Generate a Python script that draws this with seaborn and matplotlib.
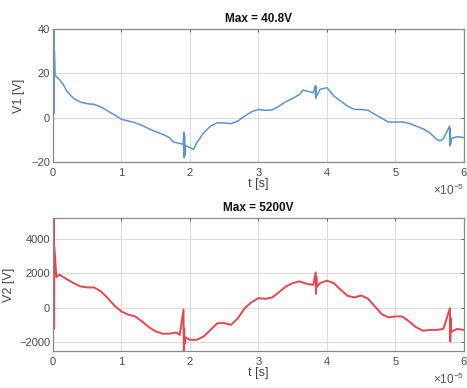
import numpy as np
import pandas as pd
import matplotlib
matplotlib.use("Agg")
import matplotlib.pyplot as plt
import seaborn as sns

# time axis in units of 1e-5 s
t1 = [0.0, 0.012, 0.016, 0.02, 0.03, 0.1, 0.15, 0.2, 0.3, 0.4, 0.5, 0.6, 0.7, 0.8, 0.9,
      1.0, 1.1, 1.2, 1.3, 1.4, 1.5, 1.6, 1.7, 1.75, 1.8, 1.9, 1.91, 1.915, 1.92, 1.925, 1.93,
      2.0, 2.05, 2.1, 2.2, 2.3, 2.4, 2.5, 2.6, 2.7, 2.8, 2.9, 3.0, 3.1, 3.2, 3.3, 3.4, 3.5,
      3.6, 3.65, 3.7, 3.8, 3.83, 3.835, 3.84, 3.845, 3.9, 4.0, 4.1, 4.2, 4.3, 4.4, 4.5, 4.6,
      4.7, 4.8, 4.9, 5.0, 5.1, 5.2, 5.3, 5.4, 5.5, 5.6, 5.65, 5.7, 5.79, 5.795, 5.8, 5.805,
      5.81, 5.9, 6.0]
v1 = [0.0, 40.8, 2.0, 30.0, 19.0, 17.0, 15.0, 12.0, 8.7, 7.0, 6.3, 6.0, 4.8, 3.0, 1.2,
      -0.8, -1.5, -2.3, -3.5, -5.0, -6.3, -7.5, -9.0, -10.8, -11.3, -12.0, -6.5, -18.0, -8.0, -17.0, -12.5,
      -13.5, -14.3, -11.3, -6.8, -3.8, -2.3, -2.4, -2.7, -1.5, 0.7, 2.7, 3.7, 3.3, 3.5, 5.2, 7.2, 8.7,
      10.5, 12.5, 12.0, 11.3, 14.5, 8.7, 14.0, 9.5, 12.8, 13.5, 9.8, 7.5, 5.2, 3.7, 3.7, 3.3,
      1.5, -0.3, -2.0, -2.0, -1.9, -2.6, -3.8, -5.0, -6.8, -9.8, -10.5, -9.5, -3.8, -12.8, -5.0, -12.0,
      -9.5, -8.6, -9.0]

t2 = [0.0, 0.012, 0.016, 0.02, 0.05, 0.1, 0.2, 0.3, 0.4, 0.5, 0.6, 0.7, 0.8, 0.9,
      1.0, 1.1, 1.2, 1.3, 1.4, 1.5, 1.6, 1.7, 1.8, 1.85, 1.905, 1.91, 1.915, 1.92, 1.925,
      2.0, 2.1, 2.2, 2.3, 2.4, 2.5, 2.6, 2.7, 2.8, 2.9, 3.0, 3.1, 3.2, 3.3, 3.4, 3.5, 3.6,
      3.7, 3.8, 3.835, 3.84, 3.845, 3.85, 3.9, 4.0, 4.1, 4.2, 4.3, 4.4, 4.5, 4.6, 4.7, 4.8,
      4.9, 5.0, 5.1, 5.2, 5.3, 5.4, 5.5, 5.6, 5.7, 5.795, 5.8, 5.805, 5.81, 5.9, 6.0]
v2 = [0, 5200, -1200, 3500, 1780, 1910, 1660, 1430, 1240, 1180, 1180, 950, 560, 115,
      -210, -400, -500, -790, -1120, -1370, -1500, -1500, -1430, -1570, -100, -2500, -1200, -2100, -1700,
      -1850, -1850, -1660, -1280, -890, -890, -985, -600, -20, 330, 560, 520, 600, 900, 1240, 1430, 1530,
      1390, 1330, 2050, 800, 1800, 1200, 1430, 1570, 1430, 1040, 700, 600, 715, 520, 80, -370,
      -560, -500, -500, -790, -1120, -1330, -1280, -1280, -1220, -20, -1950, -600, -1400, -1220, -1280]

titles = ["Max = 40.8V", "Max = 5200V"]
ylabels = ["V1 [V]", "V2 [V]"]

sns.set_theme(style="whitegrid")
plt.rcParams["font.family"] = ["Liberation Sans", "DejaVu Sans"]
plt.rcParams["mathtext.fontset"] = "custom"
plt.rcParams["mathtext.rm"] = "Liberation Sans"

fig = plt.figure(figsize=(4.67, 3.88), dpi=100)
ax1 = fig.add_axes([0.1135, 0.5825, 0.8800, 0.3428])
ax2 = fig.add_axes([0.1135, 0.0954, 0.8800, 0.3428])

df1 = pd.DataFrame({"t": np.array(t1) * 1e-5, "v": v1})
df2 = pd.DataFrame({"t": np.array(t2) * 1e-5, "v": v2})

sns.lineplot(data=df1, x="t", y="v", ax=ax1, color="#5b93d3", linewidth=1.1,
             estimator=None, sort=False)
sns.lineplot(data=df2, x="t", y="v", ax=ax2, color="#e8464e", linewidth=1.4,
             estimator=None, sort=False)

ax1.set_ylim(-20, 40)
ax1.set_yticks([-20, 0, 20, 40])
ax2.set_ylim(-2500, 5200)
ax2.set_yticks([-2000, 0, 2000, 4000])

for ax, title, ylab, lx in zip([ax1, ax2], titles, ylabels, [-0.068, -0.092]):
    ax.set_xlim(0, 6e-5)
    ax.set_xticks(np.arange(0, 7) * 1e-5)
    ax.ticklabel_format(axis="x", style="sci", scilimits=(0, 0), useMathText=True)
    ax.set_title(title, fontsize=8.5, fontweight="bold", pad=5, color="#111111")
    ax.set_xlabel("t [s]", fontsize=9, color="#444444", labelpad=0)
    ax.set_ylabel(ylab, fontsize=9, color="#444444")
    ax.yaxis.set_label_coords(lx, 0.5)
    ax.grid(True, color="#dcdcdc", linewidth=0.8)
    ax.tick_params(axis="both", labelsize=8, colors="#4a4a4a", direction="in",
                   length=2.5, width=0.6, pad=3, top=True, right=True,
                   labeltop=False, labelright=False)
    ax.tick_params(axis="y", pad=2)
    ax.xaxis.get_offset_text().set_fontsize(8.5)
    ax.xaxis.get_offset_text().set_color("#555555")
    for s in ax.spines.values():
        s.set_color("#8a8a8a")
        s.set_linewidth(0.9)

fig.savefig("out.png", dpi=100)
